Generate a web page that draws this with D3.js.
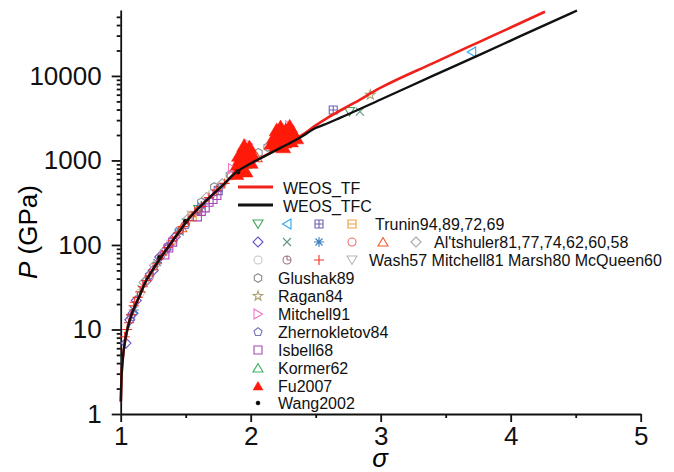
<!DOCTYPE html>
<html>
<head>
<meta charset="utf-8">
<script src="https://cdn.jsdelivr.net/npm/d3@7"></script>
<style>
  body { margin: 0; background: #fff; }
  svg { font-family: "Liberation Sans", Arial, sans-serif; }
</style>
</head>
<body>
<svg width="674" height="472"></svg>
<script>
// model curves (sigma, P in GPa)
const tfcSigma = [1.001, 1.005, 1.018, 1.035, 1.056, 1.08, 1.108, 1.15, 1.185, 1.24, 1.294, 1.36, 1.434, 1.536, 1.664, 1.78, 1.894, 2.0, 2.1, 2.226, 2.3, 2.4, 2.5, 2.56, 2.687, 3.0, 3.4, 3.764, 4.07, 4.51]
const tfcP = [1.4, 2.4, 4.8, 7.5, 10.8, 14.5, 18.6, 26, 35, 49, 66, 92, 133, 216, 341, 500, 737, 920, 1110, 1400, 1600, 1950, 2420, 2630, 3190, 5260, 10000, 17900, 29300, 59400]
const tfSigma = [1.001, 1.005, 1.018, 1.035, 1.056, 1.08, 1.108, 1.15, 1.185, 1.24, 1.294, 1.36, 1.434, 1.536, 1.664, 1.78, 1.894, 2.0, 2.1, 2.226, 2.3, 2.4, 2.5, 2.6, 2.7, 2.8, 3.0, 3.4, 3.764, 4.0, 4.264]
const tfP = [1.4, 2.4, 4.8, 7.5, 10.8, 14.5, 18.6, 26, 35, 49, 66, 92, 133, 216, 341, 500, 737, 925, 1120, 1420, 1630, 2020, 2600, 3260, 3980, 4840, 7250, 14100, 25500, 37400, 57500]

// experimental data [sigma, P]
const trunin1 = [[2.76, 3800], [1.98, 950], [1.6, 262]]
const trunin2 = [[3.70, 19200], [1.45, 150]]
const trunin3 = [[2.635, 3960], [1.75, 440]]
const trunin4 = [[2.23, 1750], [1.55, 215]]
const altshuler1 = [[1.04, 6.9], [1.07, 13], [1.095, 15.6], [1.12, 22], [1.2, 38], [1.25, 50], [1.3, 72], [1.35, 88], [1.42, 125]]
const altshuler2 = [[2.84, 3780], [1.16, 30], [1.5, 185]]
const altshuler3 = [[1.28, 62], [1.1, 17], [1.62, 290]]
const altshuler4 = [[1.22, 42], [1.4, 112], [1.85, 660]]
const altshuler5 = [[1.47, 160], [2.05, 1080]]
const altshuler6 = [[1.18, 36], [1.26, 57], [1.33, 82], [1.52, 205], [1.66, 365], [1.78, 530]]
const wash57 = [[1.15, 27], [1.38, 105], [1.7, 400]]
const mitchell81 = [[1.45, 148], [1.6, 255]]
const marsh80 = [[1.03, 8.2], [1.05, 10], [1.065, 12], [1.08, 15], [1.1, 19], [1.108, 21], [1.13, 24], [1.15, 28], [1.17, 32], [1.195, 38], [1.22, 43], [1.25, 51], [1.28, 60], [1.32, 76], [1.36, 93], [1.4, 112], [1.44, 138], [1.48, 165], [1.52, 195], [1.57, 245], [1.62, 285], [1.68, 365], [1.74, 445], [1.8, 535]]
const mcqueen60 = [[1.55, 225], [1.9, 710]]
const glushak89 = [[1.62, 320], [1.72, 486], [1.84, 674], [2.06, 1230], [2.13, 1440]]
const ragan84 = [[2.92, 5960], [1.95, 830]]
const mitchell91 = [[1.86, 800], [1.98, 1560], [2.3, 2560]]
const zhernokletov84 = [[1.08, 14], [1.22, 44], [1.36, 96], [1.5, 172], [1.76, 475]]
const isbell68 = [[1.34, 76], [1.37, 92], [1.4, 108], [1.59, 215], [1.62, 250], [1.65, 275], [1.68, 320], [1.71, 345], [1.74, 385]]
const kormer62 = [[1.97, 900]]
const fu2007 = [[1.89, 700], [1.9, 900], [1.92, 1050], [1.93, 800], [1.94, 1250], [1.95, 1500], [1.96, 1000], [1.97, 1300], [1.98, 1150], [1.99, 1450], [2.0, 950], [2.01, 1200], [1.91, 1150], [1.96, 750],
  [2.16, 1600], [2.18, 1900], [2.2, 2300], [2.21, 1750], [2.23, 2500], [2.24, 2050], [2.26, 1650], [2.27, 2300], [2.29, 1900], [2.3, 2550], [2.31, 1700], [2.33, 2100], [2.35, 1850], [2.25, 1450], [2.2, 1500]]
const wang2002 = [[1.3, 71], [1.5, 190], [1.9, 735]]

const svg = d3.select('svg')

// symbol paths, r = half size
const shape = (type, r) => {
  const p = d3.path()
  if (type === 'tdown') { p.moveTo(-r, -r * 0.8); p.lineTo(r, -r * 0.8); p.lineTo(0, r * 0.9); p.closePath() }
  else if (type === 'tup') { p.moveTo(-r, r * 0.8); p.lineTo(r, r * 0.8); p.lineTo(0, -r * 0.9); p.closePath() }
  else if (type === 'tleft') { p.moveTo(r * 0.8, -r); p.lineTo(r * 0.8, r); p.lineTo(-r * 0.9, 0); p.closePath() }
  else if (type === 'tright') { p.moveTo(-r * 0.8, -r); p.lineTo(-r * 0.8, r); p.lineTo(r * 0.9, 0); p.closePath() }
  else if (type === 'square') { p.rect(-r * 0.8, -r * 0.8, r * 1.6, r * 1.6) }
  else if (type === 'sqplus') { p.rect(-r * 0.8, -r * 0.8, r * 1.6, r * 1.6); p.moveTo(0, -r * 0.8); p.lineTo(0, r * 0.8); p.moveTo(-r * 0.8, 0); p.lineTo(r * 0.8, 0) }
  else if (type === 'sqminus') { p.rect(-r * 0.8, -r * 0.8, r * 1.6, r * 1.6); p.moveTo(-r * 0.8, 0); p.lineTo(r * 0.8, 0) }
  else if (type === 'diamond') { p.moveTo(0, -r); p.lineTo(r, 0); p.lineTo(0, r); p.lineTo(-r, 0); p.closePath() }
  else if (type === 'times') { p.moveTo(-r * 0.8, -r * 0.8); p.lineTo(r * 0.8, r * 0.8); p.moveTo(r * 0.8, -r * 0.8); p.lineTo(-r * 0.8, r * 0.8) }
  else if (type === 'plus') { p.moveTo(0, -r); p.lineTo(0, r); p.moveTo(-r, 0); p.lineTo(r, 0) }
  else if (type === 'aster') {
    p.moveTo(0, -r); p.lineTo(0, r); p.moveTo(-r, 0); p.lineTo(r, 0)
    p.moveTo(-r * 0.7, -r * 0.7); p.lineTo(r * 0.7, r * 0.7); p.moveTo(r * 0.7, -r * 0.7); p.lineTo(-r * 0.7, r * 0.7)
  }
  else if (type === 'circle' || type === 'dot') { p.moveTo(r * 0.8, 0); p.arc(0, 0, r * 0.8, 0, 2 * Math.PI) }
  else if (type === 'circq') { p.moveTo(r * 0.8, 0); p.arc(0, 0, r * 0.8, 0, 2 * Math.PI); p.moveTo(0, 0); p.lineTo(0, -r * 0.8); p.moveTo(0, 0); p.lineTo(r * 0.8, 0) }
  else if (type === 'hex' || type === 'pent') {
    const n = type === 'hex' ? 6 : 5
    for (let i = 0; i < n; i++) {
      const a = -Math.PI / 2 + i * 2 * Math.PI / n
      const px = r * 0.85 * Math.cos(a), py = r * 0.85 * Math.sin(a)
      i ? p.lineTo(px, py) : p.moveTo(px, py)
    }
    p.closePath()
  }
  else if (type === 'star') {
    for (let i = 0; i < 10; i++) {
      const a = -Math.PI / 2 + i * Math.PI / 5
      const rr = i % 2 ? r * 0.4 : r
      i ? p.lineTo(rr * Math.cos(a), rr * Math.sin(a)) : p.moveTo(rr * Math.cos(a), rr * Math.sin(a))
    }
    p.closePath()
  }
  return p.toString()
}

const series = [
  {data: trunin1, type: 'tdown', color: '#3fa65a'},
  {data: trunin2, type: 'tleft', color: '#2fa8ea'},
  {data: trunin3, type: 'sqplus', color: '#6a62b0'},
  {data: trunin4, type: 'sqminus', color: '#f2a03a'},
  {data: altshuler1, type: 'diamond', color: '#6a50c4'},
  {data: altshuler2, type: 'times', color: '#5f9a80'},
  {data: altshuler3, type: 'aster', color: '#3a7fbf'},
  {data: altshuler4, type: 'circle', color: '#f06a6a'},
  {data: altshuler5, type: 'tup', color: '#f25a2a'},
  {data: altshuler6, type: 'diamond', color: '#a8a8a8'},
  {data: wash57, type: 'circle', color: '#c8c8c8'},
  {data: mitchell81, type: 'circq', color: '#a07088'},
  {data: mcqueen60, type: 'tdown', color: '#b8b8b8'},
  {data: glushak89, type: 'hex', color: '#8a8a8a'},
  {data: ragan84, type: 'star', color: '#aaa070'},
  {data: mitchell91, type: 'tright', color: '#f07ac4'},
  {data: zhernokletov84, type: 'pent', color: '#7676b8'},
  {data: isbell68, type: 'square', color: '#a846b8'},
  {data: kormer62, type: 'tup', color: '#38b060'},
  {data: marsh80, type: 'plus', color: '#f23020'},
  {data: fu2007, type: 'tup', color: '#ff1a0a', fill: true, r: 7.5},
  {data: wang2002, type: 'dot', color: '#000', fill: true, r: 3}
]

const x = d3.scaleLinear().domain([1, 5]).range([120.7, 640.7])
const y = d3.scaleLog().domain([1, Math.pow(10, 4.78)]).range([414, 10])

// axes
svg.append('g').attr('transform', 'translate(0,414)')
  .call(d3.axisBottom(x).tickValues([1, 2, 3, 4, 5]).tickFormat(d3.format('d')).tickSize(8).tickSizeOuter(0).tickPadding(5))
svg.append('g').attr('transform', 'translate(0,414)')
  .call(d3.axisBottom(x).tickValues([1.5, 2.5, 3.5, 4.5]).tickFormat('').tickSize(4).tickSizeOuter(0))
  .select('.domain').remove()

const minorY = []
for (let e = 0; e < 5; e++) for (let m = 2; m <= 9; m++) if (m * Math.pow(10, e) < 60000) minorY.push(m * Math.pow(10, e))
svg.append('g').attr('transform', 'translate(120.7,0)')
  .call(d3.axisLeft(y).tickValues([1, 10, 100, 1000, 10000]).tickFormat(d3.format('d')).tickSize(9).tickSizeOuter(0).tickPadding(10))
svg.append('g').attr('transform', 'translate(120.7,0)')
  .call(d3.axisLeft(y).tickValues(minorY).tickFormat('').tickSize(4).tickSizeOuter(0))
  .select('.domain').remove()

svg.selectAll('.domain, .tick line').attr('stroke', '#111').attr('stroke-width', 1.8)
svg.selectAll('.tick text').attr('font-size', 26).attr('fill', '#111')
  .attr('font-family', '"Liberation Sans", Arial, sans-serif')

// axis titles
svg.append('text').attr('x', 380).attr('y', 467).attr('text-anchor', 'middle')
  .attr('font-size', 26).attr('font-style', 'italic').text('σ')
const yt = svg.append('text').attr('transform', 'translate(37,232) rotate(-90)')
  .attr('text-anchor', 'middle').attr('font-size', 26)
yt.append('tspan').attr('font-style', 'italic').text('P')
yt.append('tspan').text(' (GPa)')

// markers
series.forEach(s => {
  svg.append('g').selectAll('path').data(s.data).enter().append('path')
    .attr('transform', d => `translate(${x(d[0])},${y(d[1])})`)
    .attr('d', shape(s.type, s.r || 5))
    .attr('fill', s.fill ? s.color : 'none')
    .attr('stroke', s.color)
    .attr('stroke-width', s.fill ? 0.5 : 1.1)
})

// model lines
const line = d3.line().x(d => x(d[0])).y(d => y(d[1])).curve(d3.curveMonotoneX)
svg.append('path').datum(tfSigma.map((s, i) => [s, tfP[i]]))
  .attr('d', line).attr('fill', 'none').attr('stroke', '#f0201a').attr('stroke-width', 2.6)
svg.append('path').datum(tfcSigma.map((s, i) => [s, tfcP[i]]))
  .attr('d', line).attr('fill', 'none').attr('stroke', '#111').attr('stroke-width', 2.4)

// legend
const lg = svg.append('g').attr('font-size', 16).attr('fill', '#111')
lg.append('line').attr('x1', 238).attr('x2', 273).attr('y1', 187).attr('y2', 187).attr('stroke', '#f0201a').attr('stroke-width', 3)
lg.append('text').attr('x', 283).attr('y', 188).attr('dy', '0.35em').text('WEOS_TF')
lg.append('line').attr('x1', 238).attr('x2', 273).attr('y1', 205).attr('y2', 205).attr('stroke', '#111').attr('stroke-width', 3)
lg.append('text').attr('x', 283).attr('y', 206).attr('dy', '0.35em').text('WEOS_TFC')

const symX = [258, 287, 319, 352, 383, 416]
const legendRows = [
  {items: series.slice(0, 4), label: 'Trunin94,89,72,69', y: 224, tx: 375},
  {items: series.slice(4, 10), label: "Al'tshuler81,77,74,62,60,58", y: 242, tx: 434},
  {items: [series[10], series[11], series[19], series[12]], label: 'Wash57 Mitchell81 Marsh80 McQueen60', y: 260, tx: 369},
  {items: [series[13]], label: 'Glushak89', y: 278, tx: 278},
  {items: [series[14]], label: 'Ragan84', y: 296, tx: 278},
  {items: [series[15]], label: 'Mitchell91', y: 314, tx: 278},
  {items: [series[16]], label: 'Zhernokletov84', y: 332, tx: 278},
  {items: [series[17]], label: 'Isbell68', y: 350, tx: 278},
  {items: [series[18]], label: 'Kormer62', y: 368, tx: 278},
  {items: [series[20]], label: 'Fu2007', y: 386, tx: 278},
  {items: [series[21]], label: 'Wang2002', y: 403, tx: 278}
]

legendRows.forEach(row => {
  row.items.forEach((s, i) => {
    lg.append('path').attr('transform', `translate(${symX[i]},${row.y})`)
      .attr('d', shape(s.type, s.type === 'dot' ? 2.5 : 5))
      .attr('fill', s.fill ? s.color : 'none').attr('stroke', s.color)
      .attr('stroke-width', s.fill ? 0.5 : 1.1)
  })
  lg.append('text').attr('x', row.tx).attr('y', row.y).attr('dy', '0.35em').text(row.label)
})
</script>
</body>
</html>
